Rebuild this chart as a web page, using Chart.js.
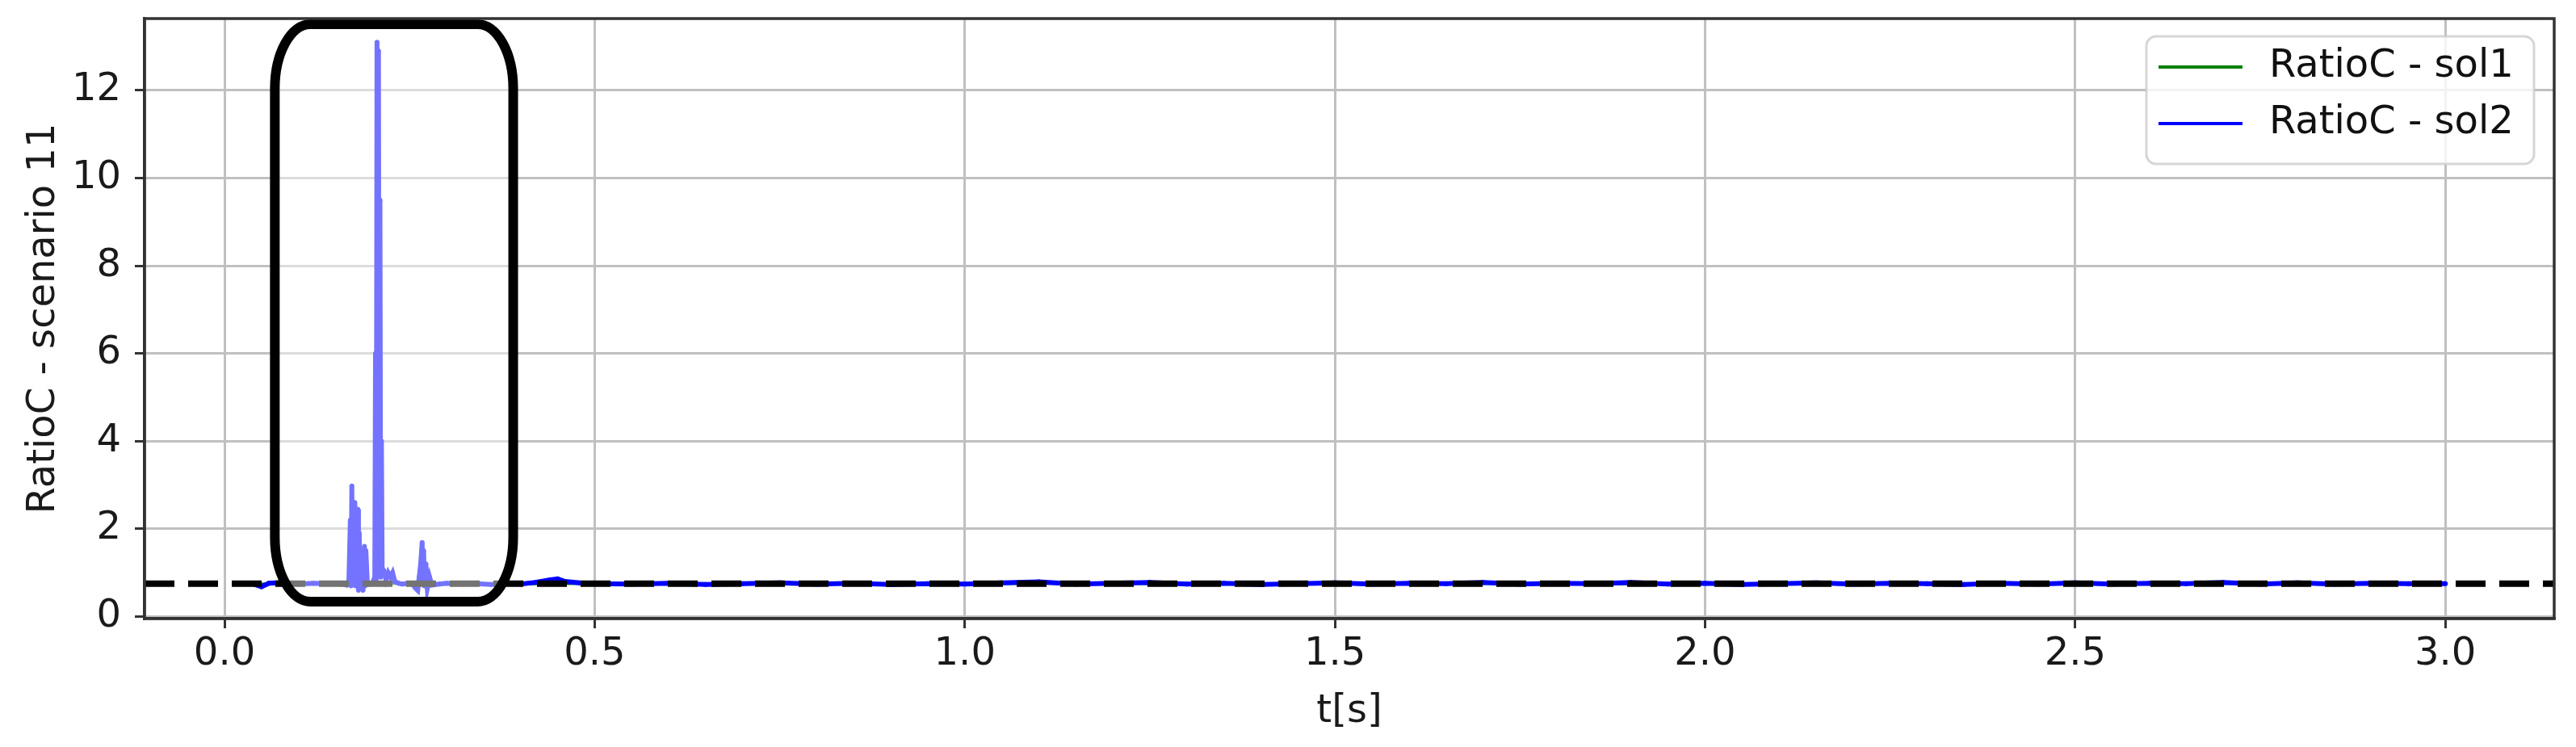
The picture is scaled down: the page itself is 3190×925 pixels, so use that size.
<!DOCTYPE html>
<html>
<head>
<meta charset="utf-8">
<script src="https://cdn.jsdelivr.net/npm/chart.js@4.4.1/dist/chart.umd.min.js"></script>
<style>
  html, body { margin: 0; padding: 0; background: #fff; }
  #wrap { width: 3190px; height: 925px; }
</style>
</head>
<body>
<div id="wrap"><canvas id="myChart" width="3190" height="925"></canvas></div>
<script>
// time axis + tick labels
const xTicks = [0.0, 0.5, 1.0, 1.5, 2.0, 2.5, 3.0];
const yTicks = [0, 2, 4, 6, 8, 10, 12];

// sol1 (green) - sits on the reference level, hidden under sol2 / dashed line
const t1 = [0.04, 0.10, 0.20, 0.30, 0.40, 0.50, 0.60, 0.70, 0.80, 0.90, 1.00,
  1.10, 1.20, 1.30, 1.40, 1.50, 1.60, 1.70, 1.80, 1.90, 2.00,
  2.10, 2.20, 2.30, 2.40, 2.50, 2.60, 2.70, 2.80, 2.90, 3.00];
const sol1 = [0.75, 0.74, 0.75, 0.75, 0.74, 0.75, 0.75, 0.74, 0.75, 0.75, 0.74,
  0.75, 0.75, 0.74, 0.75, 0.75, 0.74, 0.75, 0.75, 0.74, 0.75,
  0.75, 0.74, 0.75, 0.75, 0.74, 0.75, 0.75, 0.74, 0.75, 0.75];

// sol2 (blue)
const t2 = [0.04, 0.05, 0.06, 0.08, 0.10, 0.12, 0.14, 0.16, 0.165,
  0.168, 0.170, 0.171, 0.172, 0.173, 0.174, 0.175, 0.176, 0.177, 0.178, 0.179,
  0.180, 0.181, 0.182, 0.183, 0.185, 0.187, 0.189, 0.190, 0.191, 0.193, 0.196,
  0.200, 0.203, 0.204, 0.205, 0.206, 0.207, 0.208, 0.209, 0.210, 0.211, 0.212,
  0.213, 0.215, 0.218, 0.221, 0.224, 0.227, 0.230, 0.235, 0.240, 0.245, 0.250,
  0.255, 0.258, 0.261, 0.263, 0.265, 0.267, 0.268, 0.269, 0.270, 0.272, 0.274,
  0.277, 0.280, 0.29, 0.30, 0.32, 0.34, 0.36, 0.38, 0.40, 0.42, 0.44, 0.45,
  0.46, 0.48, 0.50, 0.55, 0.60, 0.65, 0.70, 0.75, 0.80, 0.85, 0.90, 0.95,
  1.00, 1.05, 1.10, 1.15, 1.20, 1.25, 1.30, 1.35, 1.40, 1.45, 1.50, 1.55,
  1.60, 1.65, 1.70, 1.75, 1.80, 1.85, 1.90, 1.95, 2.00, 2.05, 2.10, 2.15,
  2.20, 2.25, 2.30, 2.35, 2.40, 2.45, 2.50, 2.55, 2.60, 2.65, 2.70, 2.75,
  2.80, 2.85, 2.90, 2.95, 3.00];
const sol2 = [0.74, 0.68, 0.76, 0.78, 0.74, 0.76, 0.75, 0.74, 0.72,
  0.80, 2.20, 0.70, 2.98, 1.20, 2.50, 0.90, 2.60, 0.70, 2.40, 1.00,
  2.45, 0.60, 1.90, 0.65, 1.20, 0.60, 1.60, 0.70, 1.50, 0.75, 0.74,
  0.76, 0.90, 6.00, 0.80, 13.10, 1.00, 12.90, 1.20, 9.50, 0.90, 4.00,
  1.10, 1.05, 0.85, 1.00, 0.90, 1.00, 0.80, 0.76, 0.74, 0.75, 0.76,
  0.72, 0.65, 0.60, 0.90, 1.20, 1.69, 0.80, 1.50, 0.70, 1.20, 0.65,
  0.90, 0.72, 0.74, 0.76, 0.74, 0.75, 0.73, 0.76, 0.74, 0.78, 0.84, 0.86,
  0.80, 0.77, 0.75, 0.74, 0.76, 0.73, 0.75, 0.77, 0.74, 0.76, 0.73, 0.75,
  0.74, 0.77, 0.79, 0.74, 0.76, 0.78, 0.74, 0.76, 0.73, 0.75, 0.77, 0.74,
  0.76, 0.75, 0.78, 0.74, 0.76, 0.75, 0.78, 0.74, 0.76, 0.73, 0.75, 0.77,
  0.74, 0.76, 0.75, 0.73, 0.76, 0.74, 0.77, 0.74, 0.76, 0.75, 0.78, 0.74,
  0.77, 0.74, 0.76, 0.75, 0.75];

// dashed reference level and highlighted region (data units)
const refLevel = 0.75;
const boxT = [0.068, 0.390];
const boxV = [0.34, 13.51];

const xRange = [-0.108, 3.147];
const yRange = [-0.046, 13.637];

Chart.defaults.font.family = 'DejaVu Sans';
Chart.defaults.font.size = 48;
Chart.defaults.color = '#1a1a1a';

const overlay = {
    id: 'overlay',
    afterDatasetsDraw(chart) {
        const { ctx, chartArea: a, scales: { x, y } } = chart;
        ctx.save();

        // axhline
        ctx.beginPath();
        ctx.rect(a.left, a.top, a.right - a.left, a.bottom - a.top);
        ctx.clip();
        const yr = y.getPixelForValue(refLevel);
        ctx.strokeStyle = '#000';
        ctx.lineWidth = 8;
        ctx.setLineDash([37, 17]);
        ctx.beginPath();
        ctx.moveTo(a.left, yr);
        ctx.lineTo(a.right, yr);
        ctx.stroke();
        ctx.setLineDash([]);

        // rounded highlight box
        const x0 = x.getPixelForValue(boxT[0]);
        const x1 = x.getPixelForValue(boxT[1]);
        const y0 = y.getPixelForValue(boxV[1]);
        const y1 = y.getPixelForValue(boxV[0]);
        const rx = 44, ry = 80;
        ctx.beginPath();
        ctx.moveTo(x0 + rx, y0);
        ctx.lineTo(x1 - rx, y0);
        ctx.ellipse(x1 - rx, y0 + ry, rx, ry, 0, -Math.PI / 2, 0);
        ctx.lineTo(x1, y1 - ry);
        ctx.ellipse(x1 - rx, y1 - ry, rx, ry, 0, 0, Math.PI / 2);
        ctx.lineTo(x0 + rx, y1);
        ctx.ellipse(x0 + rx, y1 - ry, rx, ry, 0, Math.PI / 2, Math.PI);
        ctx.lineTo(x0, y0 + ry);
        ctx.ellipse(x0 + rx, y0 + ry, rx, ry, 0, Math.PI, Math.PI * 1.5);
        ctx.closePath();
        ctx.fillStyle = 'rgba(255,255,255,0.45)';
        ctx.fill();
        ctx.strokeStyle = '#000';
        ctx.lineWidth = 12;
        ctx.stroke();

        ctx.restore();
    },
    afterDraw(chart) {
        const { ctx, chartArea: a } = chart;
        ctx.save();
        // top + right spines
        ctx.strokeStyle = '#333';
        ctx.lineWidth = 3.5;
        ctx.strokeRect(a.left, a.top, a.right - a.left, a.bottom - a.top);

        // legend
        const items = chart.data.datasets.filter(d => d.label);
        const bw = 480, bh = 158;
        const bx = a.right - 25 - bw, by = a.top + 22;
        ctx.beginPath();
        ctx.roundRect(bx, by, bw, bh, 12);
        ctx.fillStyle = 'rgba(255,255,255,0.8)';
        ctx.fill();
        ctx.strokeStyle = 'rgba(204,204,204,0.8)';
        ctx.lineWidth = 3;
        ctx.stroke();
        ctx.font = '48px "DejaVu Sans"';
        ctx.textBaseline = 'middle';
        ctx.textAlign = 'left';
        items.forEach((d, i) => {
            const ly = by + 38 + i * 70;
            ctx.strokeStyle = d.borderColor;
            ctx.lineWidth = 4;
            ctx.beginPath();
            ctx.moveTo(bx + 15, ly);
            ctx.lineTo(bx + 119, ly);
            ctx.stroke();
            ctx.fillStyle = '#111';
            ctx.fillText(d.label, bx + 152, ly);
        });
        ctx.restore();
    }
};

const data = {
    datasets: [
        {
            label: 'RatioC - sol1',
            data: t1.map((t, i) => ({ x: t, y: sol1[i] })),
            borderColor: '#008000',
            backgroundColor: '#008000',
            borderWidth: 3,
            pointRadius: 0,
            order: 2
        },
        {
            label: 'RatioC - sol2',
            data: t2.map((t, i) => ({ x: t, y: sol2[i] })),
            borderColor: '#0000ff',
            backgroundColor: '#0000ff',
            borderWidth: 6,
            pointRadius: 3,
            pointBorderWidth: 0,
            order: 1
        }
    ]
};

const config = {
    type: 'line',
    data: data,
    options: {
        responsive: false,
        animation: false,
        devicePixelRatio: 1,
        layout: { padding: { top: 23, right: 27, left: 0, bottom: 0 } },
        plugins: { legend: { display: false }, tooltip: { enabled: false } },
        scales: {
            x: {
                type: 'linear',
                min: xRange[0],
                max: xRange[1],
                afterFit: s => { s.height = 159; s.paddingLeft = 0; s.paddingRight = 0; },
                afterBuildTicks: s => { s.ticks = xTicks.map(v => ({ value: v })); },
                ticks: { padding: 4, callback: v => v.toFixed(1), maxRotation: 0 },
                grid: { color: '#c0c0c0', lineWidth: 3, tickLength: 12, tickColor: '#333', tickWidth: 3 },
                border: { color: '#333', width: 3.5 },
                title: { display: true, text: 't[s]', padding: { top: 0, bottom: 15 } }
            },
            y: {
                type: 'linear',
                min: yRange[0],
                max: yRange[1],
                afterFit: s => { s.width = 179; s.paddingTop = 0; s.paddingBottom = 0; },
                afterBuildTicks: s => { s.ticks = yTicks.map(v => ({ value: v })); },
                ticks: { padding: 17 },
                grid: { color: '#c0c0c0', lineWidth: 3, tickLength: 12, tickColor: '#333', tickWidth: 3 },
                border: { color: '#333', width: 3.5 },
                title: { display: true, text: 'RatioC - scenario 11', padding: { top: 26, bottom: 0 } }
            }
        }
    },
    plugins: [overlay]
};

const myChart = new Chart(document.getElementById('myChart'), config);
</script>
</body>
</html>
